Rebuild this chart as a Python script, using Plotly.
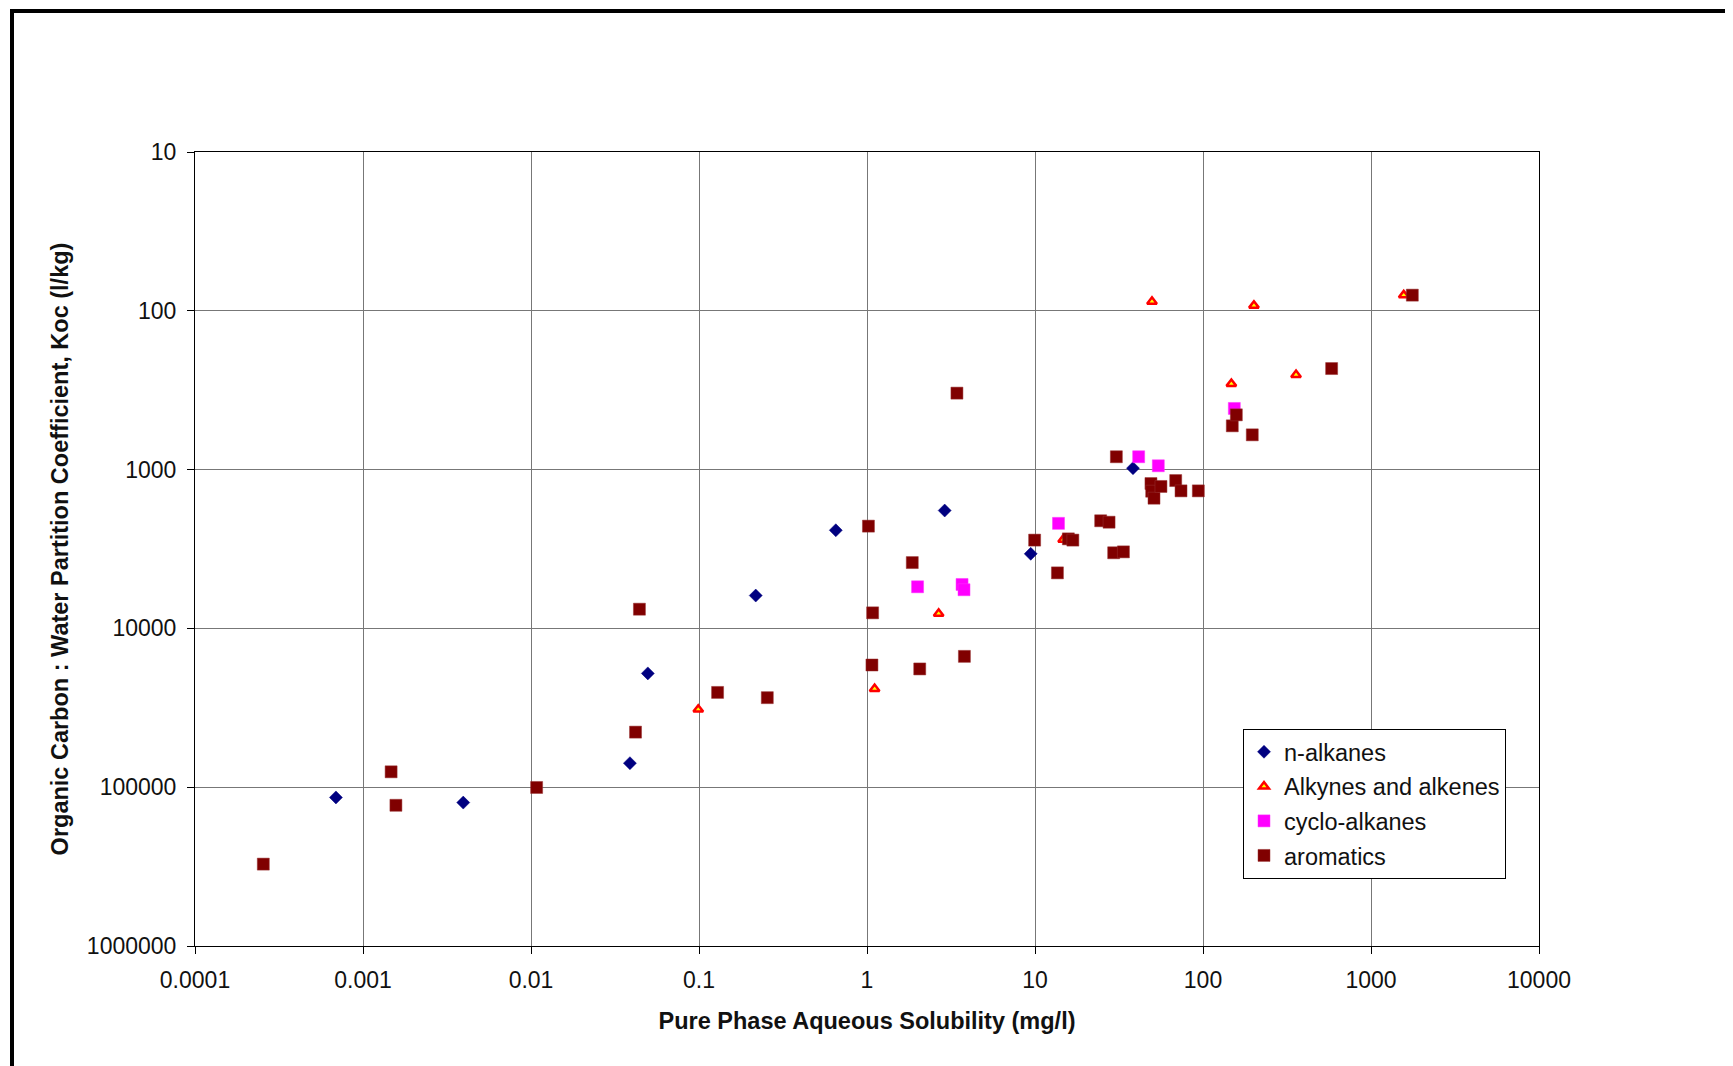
import plotly.graph_objects as go

# ---- data ----
alk_x = [6.9e-4, 3.95e-3, 0.0388, 0.0496, 0.2176, 0.652, 2.90, 9.43, 38.3]
alk_y = [116000, 125000, 70600, 19200, 6210, 2410, 1810, 3390, 980]

ene_x = [0.099, 1.11, 2.67, 14.7, 49.7, 147.5, 201, 358, 1566]
ene_y = [32400, 24000, 8060, 2760, 87.4, 288, 92.6, 253, 79.7]

cyc_x = [2.0, 3.68, 3.78, 13.8, 41.4, 54.2, 153.6]
cyc_y = [5470, 5290, 5710, 2180, 830, 946, 412]

aro_x = [2.55e-4, 1.47e-3, 1.57e-3, 0.0108, 0.0419, 0.0442, 0.129, 0.255, 1.02, 1.07,
         1.08, 1.86, 2.06, 3.43, 3.80, 9.95, 13.6, 15.8, 16.8, 24.6,
         27.6, 29.4, 30.5, 33.6, 49.0, 49.5, 51.1, 56.2, 68.8, 74.0,
         93.8, 149.4, 157.9, 196.5, 583, 1762]
aro_y = [305000, 80000, 130000, 100400, 45000, 7570, 25300, 27300, 2270, 17000,
         7980, 3850, 18000, 330, 15000, 2780, 4470, 2730, 2780, 2100,
         2144, 3340, 830, 3296, 1224, 1368, 1514, 1277, 1172, 1361,
         1361, 530, 452, 604, 231, 79.7]

x_ticks = [0.0001, 0.001, 0.01, 0.1, 1, 10, 100, 1000, 10000]
x_labels = ["0.0001", "0.001", "0.01", "0.1", "1", "10", "100", "1000", "10000"]
y_ticks = [10, 100, 1000, 10000, 100000, 1000000]
y_labels = ["10", "100", "1000", "10000", "100000", "1000000"]

FONT = "Arial, Liberation Sans, sans-serif"

fig = go.Figure()
fig.add_trace(go.Scatter(x=alk_x, y=alk_y, mode="markers", name="n-alkanes", legendgroup="a",
                         marker=dict(symbol="diamond", size=10, color="#000080",
                                     line=dict(width=0.5, color="#000080"))))
fig.add_trace(go.Scatter(x=ene_x, y=ene_y, mode="markers", name="Alkynes and alkenes", legendgroup="b",
                         marker=dict(symbol="triangle-up", size=8.5, color="#FFFF00",
                                     line=dict(width=2.5, color="#FF0000"))))
fig.add_trace(go.Scatter(x=cyc_x, y=cyc_y, mode="markers", name="cyclo-alkanes", legendgroup="c",
                         marker=dict(symbol="square", size=12, color="#FF00FF",
                                     line=dict(width=0.5, color="#FF33FF"))))
fig.add_trace(go.Scatter(x=aro_x, y=aro_y, mode="markers", name="aromatics", legendgroup="d",
                         marker=dict(symbol="square", size=12, color="#800000",
                                     line=dict(width=0.5, color="#993333"))))

# page has an 8px body margin, so figure coords = screen coords - 8
OFF = 8
W, H = 1733, 1066
L, R, T, B = 195 - OFF, 1733 - 1539 + OFF, 152 - OFF, 1066 - 946 + OFF
pw, ph = W - L - R, H - T - B

def px(xs):  # screen x -> paper
    return (xs - OFF - L) / pw

def py(ys):  # screen y -> paper
    return (H - B - (ys - OFF)) / ph

fig.update_layout(
    width=W, height=H,
    margin=dict(l=L, r=R, t=T, b=B),
    paper_bgcolor="white", plot_bgcolor="white",
    font=dict(family=FONT, size=23, color="#111111"),
    showlegend=True,
    legend=dict(x=px(1243), y=py(729), xanchor="left", yanchor="top",
                bgcolor="white", bordercolor="black", borderwidth=1,
                font=dict(family=FONT, size=23.5, color="#111111"),
                tracegroupgap=1, itemsizing="trace"),
    xaxis=dict(type="log", range=[-4, 4], tickmode="array", tickvals=x_ticks, ticktext=x_labels,
               showgrid=True, gridcolor="#777777", gridwidth=1,
               showline=True, linecolor="black", linewidth=1, mirror=True,
               ticks="outside", ticklen=7, tickcolor="black", ticklabelstandoff=6,
               tickfont=dict(size=23),
               zeroline=False,
               title=dict(text="<b>Pure Phase Aqueous Solubility (mg/l)</b>",
                          font=dict(family=FONT, size=23.5, color="#111111"), standoff=20)),
    yaxis=dict(type="log", range=[6, 1], tickmode="array", tickvals=y_ticks, ticktext=y_labels,
               showgrid=True, gridcolor="#777777", gridwidth=1,
               showline=True, linecolor="black", linewidth=1, mirror=True,
               ticks="outside", ticklen=7, tickcolor="black", ticklabelstandoff=6,
               tickfont=dict(size=23),
               zeroline=False,
               title=dict(text="<b>Organic Carbon : Water Partition Coefficient, Koc (l/kg)</b>",
                          font=dict(family=FONT, size=23.5, color="#111111"), standoff=11)),
    shapes=[
        dict(type="line", xref="paper", yref="paper", x0=px(10), x1=px(W + 10), y0=py(11), y1=py(11),
             line=dict(color="black", width=4)),
        dict(type="line", xref="paper", yref="paper", x0=px(12), x1=px(12), y0=py(9), y1=py(H + 10),
             line=dict(color="black", width=4)),
    ],
)

fig.write_html("out.html")
